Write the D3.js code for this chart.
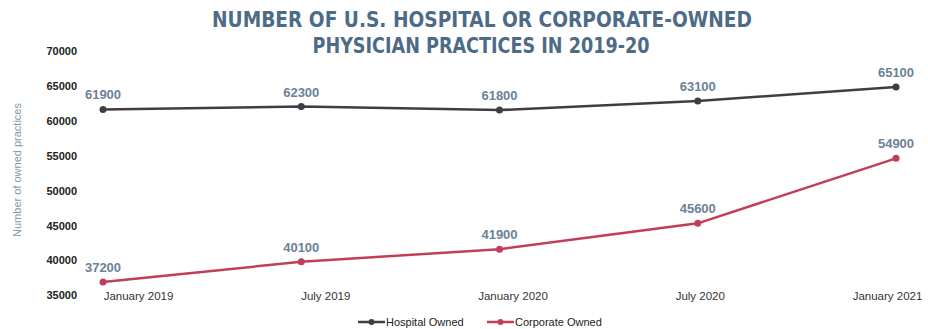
<!DOCTYPE html>
<html>
<head>
<meta charset="utf-8">
<script src="https://cdn.jsdelivr.net/npm/d3@7"></script>
<style>
  html, body { margin: 0; padding: 0; background: #fff; }
  svg { display: block; }
</style>
</head>
<body>
<svg id="chart" width="928" height="329"></svg>
<script>
// Periods on the x axis
const periods = ["January 2019", "July 2019", "January 2020", "July 2020", "January 2021"];
// Number of physician practices owned, per period
const hospitalOwned = [61900, 62300, 61800, 63100, 65100];
const corporateOwned = [37200, 40100, 41900, 45600, 54900];
// Y axis ticks
const yTicks = [35000, 40000, 45000, 50000, 55000, 60000, 65000, 70000];

const series = [
  { name: "Hospital Owned", values: hospitalOwned, color: "#3f3f42" },
  { name: "Corporate Owned", values: corporateOwned, color: "#c43d58" }
];

const svg = d3.select("#chart");

const x = d3.scalePoint().domain(periods).range([103, 896]);
const xLabel = d3.scalePoint().domain(periods).range([138, 887]);
const y = d3.scaleLinear().domain([35000, 70000]).range([297.4, 52.8]);

// Title
const title = svg.append("text")
  .attr("text-anchor", "middle")
  .attr("font-family", "'DejaVu Sans Condensed', 'DejaVu Sans', sans-serif")
  .attr("font-weight", "bold")
  .attr("font-size", 21)
  .attr("fill", "#4d6b86");
title.append("tspan").attr("x", 482).attr("y", 27)
  .attr("textLength", 540).attr("lengthAdjust", "spacingAndGlyphs")
  .text("NUMBER OF U.S. HOSPITAL OR CORPORATE-OWNED");
title.append("tspan").attr("x", 481).attr("y", 53)
  .attr("textLength", 337).attr("lengthAdjust", "spacingAndGlyphs")
  .text("PHYSICIAN PRACTICES IN 2019-20");

// Y axis (labels only)
const yAxis = svg.append("g")
  .attr("transform", "translate(77,-2)")
  .call(d3.axisLeft(y).tickValues(yTicks).tickSize(0).tickPadding(0).tickFormat(d3.format("d")));
yAxis.select(".domain").remove();
yAxis.selectAll("text")
  .attr("font-family", "'Liberation Sans', Arial, sans-serif")
  .attr("font-size", 11)
  .attr("font-weight", "bold")
  .attr("fill", "#222");

// X axis (labels only)
const xAxis = svg.append("g")
  .attr("transform", "translate(0,292)")
  .call(d3.axisBottom(xLabel).tickSize(0).tickPadding(0));
xAxis.select(".domain").remove();
xAxis.selectAll("text")
  .attr("font-family", "'Liberation Sans', Arial, sans-serif")
  .attr("font-size", 11.5)
  .attr("fill", "#333");

// Y axis title
svg.append("text")
  .attr("transform", "translate(21,170) rotate(-90)")
  .attr("text-anchor", "middle")
  .attr("font-family", "'Liberation Sans', Arial, sans-serif")
  .attr("font-size", 11)
  .attr("fill", "#8797a6")
  .text("Number of owned practices");

const line = d3.line()
  .x((d, i) => x(periods[i]))
  .y(d => y(d));

series.forEach(s => {
  const g = svg.append("g");
  g.append("path")
    .datum(s.values)
    .attr("d", line)
    .attr("fill", "none")
    .attr("stroke", s.color)
    .attr("stroke-width", 2.5);
  g.selectAll("circle")
    .data(s.values)
    .join("circle")
    .attr("cx", (d, i) => x(periods[i]))
    .attr("cy", d => y(d))
    .attr("r", 3.5)
    .attr("fill", s.color);
  g.selectAll("text")
    .data(s.values)
    .join("text")
    .attr("x", (d, i) => x(periods[i]))
    .attr("y", d => y(d) - 10)
    .attr("text-anchor", "middle")
    .attr("font-family", "'Liberation Sans', Arial, sans-serif")
    .attr("font-size", 13)
    .attr("font-weight", "bold")
    .attr("fill", "#6c8197")
    .text(d => d);
});

// Legend
const legendX = [358, 487];
const legend = svg.append("g").attr("transform", "translate(0,322)");
series.forEach((s, i) => {
  const g = legend.append("g").attr("transform", `translate(${legendX[i]},0)`);
  g.append("line").attr("x1", 0).attr("x2", 27).attr("y1", 0).attr("y2", 0)
    .attr("stroke", s.color).attr("stroke-width", 2.5);
  g.append("circle").attr("cx", 13.5).attr("cy", 0).attr("r", 3).attr("fill", s.color);
  g.append("text").attr("x", 28).attr("y", 4)
    .attr("font-family", "'Liberation Sans', Arial, sans-serif")
    .attr("font-size", 11)
    .attr("fill", "#222")
    .text(s.name);
});
</script>
</body>
</html>
